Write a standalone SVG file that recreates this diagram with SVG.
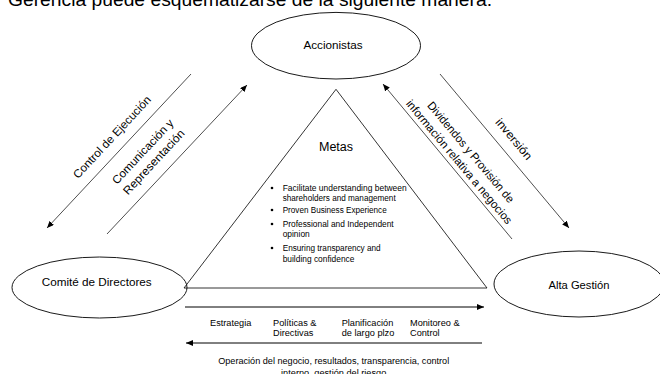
<svg xmlns="http://www.w3.org/2000/svg" width="660" height="374" viewBox="0 0 660 374">
<style>
.node{fill:#fff;stroke:#000;stroke-width:0.9}
.tri{fill:none;stroke:#000;stroke-width:0.8}
.conn{stroke:#222;stroke-width:0.8;fill:none}
.hconn{stroke:#000;stroke-width:1;fill:none}
text{font-family:"Liberation Sans",Arial,sans-serif;fill:#000}
.lbl{font-size:11.7px}
.diag{font-size:11.5px}
.bul{font-size:8.4px}
.sm{font-size:9.2px}
</style>
<defs>
<marker id="ah" markerUnits="userSpaceOnUse" markerWidth="7" markerHeight="6" refX="7" refY="3" orient="auto">
<path d="M0,0 L7,3 L0,6 z" fill="#000"/>
</marker>
</defs>
<rect width="660" height="374" fill="#fff"/>
<text x="8" y="5.5" style="font-size:19px" textLength="484" lengthAdjust="spacingAndGlyphs">Gerencia puede esquematizarse de la siguiente manera.</text>

<g id="accionistas">
<ellipse class="node" cx="336" cy="45.7" rx="84.5" ry="33.3"/>
<text class="lbl" x="333" y="49" text-anchor="middle">Accionistas</text>
</g>
<g id="comite">
<ellipse class="node" cx="99.5" cy="287.5" rx="87.5" ry="30.5"/>
<text class="lbl" x="96.7" y="286" text-anchor="middle" textLength="110" lengthAdjust="spacingAndGlyphs">Comité de Directores</text>
</g>
<g id="alta">
<ellipse class="node" cx="579" cy="284" rx="85" ry="33"/>
<text class="lbl" x="579" y="288.5" text-anchor="middle" textLength="61" lengthAdjust="spacingAndGlyphs">Alta Gestión</text>
</g>
<g id="metas">
<path class="tri" d="M336,89.3 L184,288 L487,288 Z"/>
<text x="336" y="150.7" text-anchor="middle" style="font-size:12.5px">Metas</text>
<g fill="#000">
<circle cx="272" cy="188" r="1.3"/>
<circle cx="272" cy="210" r="1.3"/>
<circle cx="272" cy="224" r="1.3"/>
<circle cx="272" cy="248" r="1.3"/>
</g>
<text class="bul" x="282.7" y="190.7" textLength="124" lengthAdjust="spacingAndGlyphs">Facilitate understanding between</text>
<text class="bul" x="282.7" y="200.7" textLength="113" lengthAdjust="spacingAndGlyphs">shareholders and management</text>
<text class="bul" x="282.7" y="212.7" textLength="104" lengthAdjust="spacingAndGlyphs">Proven Business Experience</text>
<text class="bul" x="282.7" y="226.7" textLength="111" lengthAdjust="spacingAndGlyphs">Professional and Independent</text>
<text class="bul" x="282.7" y="237.3">opinion</text>
<text class="bul" x="282.7" y="250.7" textLength="98" lengthAdjust="spacingAndGlyphs">Ensuring transparency and</text>
<text class="bul" x="282.7" y="262">building confidence</text>
</g>

<g id="connectors">
<line class="conn" x1="191" y1="74" x2="47" y2="228" marker-end="url(#ah)"/>
<line class="conn" x1="107" y1="234" x2="247" y2="85" marker-end="url(#ah)"/>
<line class="conn" x1="512" y1="239" x2="383" y2="84" marker-end="url(#ah)"/>
<line class="conn" x1="440" y1="74" x2="569" y2="228" marker-end="url(#ah)"/>
<line class="hconn" x1="185" y1="307" x2="484" y2="307" marker-end="url(#ah)"/>
<line class="hconn" x1="482" y1="343" x2="186" y2="343" marker-end="url(#ah)"/>
</g>

<g id="labels">
<g transform="translate(112 137) rotate(-47)">
<text class="diag" x="0" y="4" text-anchor="middle" textLength="108" lengthAdjust="spacingAndGlyphs">Control de Ejecución</text>
</g>
<g transform="translate(148.3 156.9) rotate(-47)">
<text class="diag" x="0" y="-3.8" text-anchor="middle" textLength="84" lengthAdjust="spacingAndGlyphs">Comunicación y</text>
<text class="diag" x="0" y="11.4" text-anchor="middle" textLength="84" lengthAdjust="spacingAndGlyphs">Representación</text>
</g>
<g transform="translate(464.9 157.1) rotate(50)">
<text class="diag" x="0" y="-3.8" text-anchor="middle" textLength="128" lengthAdjust="spacingAndGlyphs">Dividendos y Provisión de</text>
<text class="diag" x="0" y="11.4" text-anchor="middle" textLength="158" lengthAdjust="spacingAndGlyphs">información relativa a negocios</text>
</g>
<g transform="translate(514 139) rotate(50)">
<text class="diag" x="0" y="4" text-anchor="middle" textLength="50" lengthAdjust="spacingAndGlyphs">inversión</text>
</g>
<text class="sm" x="210" y="325.5">Estrategia</text>
<text class="sm" x="273" y="325.5">Políticas &amp;</text>
<text class="sm" x="273" y="336">Directivas</text>
<text class="sm" x="341.7" y="325.5">Planificación</text>
<text class="sm" x="341.7" y="336">de largo plzo</text>
<text class="sm" x="410" y="325.5">Monitoreo &amp;</text>
<text class="sm" x="410" y="336">Control</text>
<text class="sm" x="333.7" y="364" text-anchor="middle" textLength="231" lengthAdjust="spacingAndGlyphs">Operación del negocio, resultados, transparencia, control</text>
<text class="sm" x="333.7" y="376" text-anchor="middle">interno, gestión del riesgo</text>
</g>
</svg>
